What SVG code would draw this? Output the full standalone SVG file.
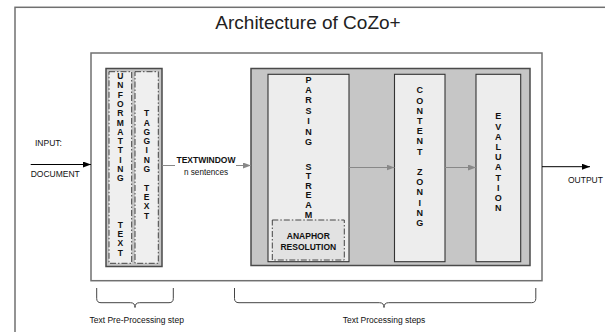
<svg xmlns="http://www.w3.org/2000/svg" width="605" height="332" viewBox="0 0 605 332">
<defs>
<marker id="ahBlack" markerUnits="userSpaceOnUse" markerWidth="10" markerHeight="8" refX="8" refY="3" orient="auto"><path d="M0,0 L8,3 L0,6 Z" fill="#000"/></marker>
<marker id="ahGray" markerUnits="userSpaceOnUse" markerWidth="10" markerHeight="8" refX="8" refY="3" orient="auto"><path d="M0,0 L8,3 L0,6 Z" fill="#888"/></marker>
</defs>
<style>
text{font-family:"Liberation Sans",Arial,sans-serif;fill:#111}
.title{font-size:19px;fill:#222}
.lbl{font-size:8.5px}
.col{font-size:9px;font-weight:bold;text-anchor:middle}
.colS{font-size:8.5px;font-weight:bold;text-anchor:middle}
.frame{fill:#fff;stroke:#707070;stroke-width:1.5}
.grp{fill:#c6c6c6;stroke:#4a4a4a;stroke-width:1.5}
.box{fill:#ededed;stroke:#333;stroke-width:1.1}
.dash{fill:#efefef;stroke:#444;stroke-width:1;stroke-dasharray:6 2 1.5 2}
.brace{fill:none;stroke:#444;stroke-width:1}
.gray{stroke:#888;stroke-width:1;fill:none}
.black{stroke:#000;stroke-width:1;fill:none}
</style>
<rect x="0" y="0" width="605" height="332" fill="#fff"/>
<rect class="frame" x="15" y="7.3" width="640" height="360"/>
<text class="title" x="308" y="29" text-anchor="middle">Architecture of CoZo+</text>
<rect class="frame" x="91" y="53" width="451" height="227.7"/>

<g id="preprocessing">
<rect class="grp" x="106" y="68.5" width="56" height="198"/>
</g>
<g id="unformatting">
<rect class="dash" x="109" y="71.7" width="22.7" height="191.6"/>
<text class="colS"><tspan x="120.4" y="79">U</tspan><tspan x="120.4" dy="9.3">N</tspan><tspan x="120.4" dy="9.3">F</tspan><tspan x="120.4" dy="9.3">O</tspan><tspan x="120.4" dy="9.3">R</tspan><tspan x="120.4" dy="9.3">M</tspan><tspan x="120.4" dy="9.3">A</tspan><tspan x="120.4" dy="9.3">T</tspan><tspan x="120.4" dy="9.3">T</tspan><tspan x="120.4" dy="9.3">I</tspan><tspan x="120.4" dy="9.3">N</tspan><tspan x="120.4" dy="9.3">G</tspan><tspan x="120.4" dy="46.5">T</tspan><tspan x="120.4" dy="9.3">E</tspan><tspan x="120.4" dy="9.3">X</tspan><tspan x="120.4" dy="9.3">T</tspan></text>
</g>
<g id="tagging">
<rect class="dash" x="135" y="71.7" width="23.3" height="191.6"/>
<text class="colS"><tspan x="146.7" y="116.2">T</tspan><tspan x="146.7" dy="9.3">A</tspan><tspan x="146.7" dy="9.3">G</tspan><tspan x="146.7" dy="9.3">G</tspan><tspan x="146.7" dy="9.3">I</tspan><tspan x="146.7" dy="9.3">N</tspan><tspan x="146.7" dy="9.3">G</tspan><tspan x="146.7" dy="18.6">T</tspan><tspan x="146.7" dy="9.3">E</tspan><tspan x="146.7" dy="9.3">X</tspan><tspan x="146.7" dy="9.3">T</tspan></text>
</g>

<g id="processing">
<rect class="grp" x="251" y="68.5" width="279" height="197"/>
</g>
<g id="parsing">
<rect class="box" x="268" y="74.3" width="81" height="187.4"/>
<text class="col"><tspan x="308.5" y="82.6">P</tspan><tspan x="308.5" dy="10.4">A</tspan><tspan x="308.5" dy="10.4">R</tspan><tspan x="308.5" dy="10.4">S</tspan><tspan x="308.5" dy="10.4">I</tspan><tspan x="308.5" dy="10.4">N</tspan><tspan x="308.5" dy="10.4">G</tspan><tspan x="308.5" dy="24.6">S</tspan><tspan x="308.5" dy="9.6">T</tspan><tspan x="308.5" dy="9.6">R</tspan><tspan x="308.5" dy="9.6">E</tspan><tspan x="308.5" dy="9.6">A</tspan><tspan x="308.5" dy="9.6">M</tspan></text>
</g>
<g id="anaphor">
<rect class="dash" x="272.3" y="220" width="72" height="40" style="fill:#e2e2e2"/>
<text class="col" style="font-size:8.5px"><tspan x="308.3" y="239.3">ANAPHOR</tspan><tspan x="308.3" y="249.8">RESOLUTION</tspan></text>
</g>
<g id="content">
<rect class="box" x="394.5" y="74.3" width="50.5" height="187.4"/>
<text class="col"><tspan x="419.8" y="93.4">C</tspan><tspan x="419.8" dy="10.2">O</tspan><tspan x="419.8" dy="10.2">N</tspan><tspan x="419.8" dy="10.2">T</tspan><tspan x="419.8" dy="10.2">E</tspan><tspan x="419.8" dy="10.2">N</tspan><tspan x="419.8" dy="10.2">T</tspan><tspan x="419.8" dy="20.4">Z</tspan><tspan x="419.8" dy="10.2">O</tspan><tspan x="419.8" dy="10.2">N</tspan><tspan x="419.8" dy="10.2">I</tspan><tspan x="419.8" dy="10.2">N</tspan><tspan x="419.8" dy="10.2">G</tspan></text>
</g>
<g id="evaluation">
<rect class="box" x="476" y="74.3" width="44.7" height="187.4"/>
<text class="col"><tspan x="498.3" y="119.4">E</tspan><tspan x="498.3" dy="10.2">V</tspan><tspan x="498.3" dy="10.2">A</tspan><tspan x="498.3" dy="10.2">L</tspan><tspan x="498.3" dy="10.2">U</tspan><tspan x="498.3" dy="10.2">A</tspan><tspan x="498.3" dy="10.2">T</tspan><tspan x="498.3" dy="10.2">I</tspan><tspan x="498.3" dy="10.2">O</tspan><tspan x="498.3" dy="10.2">N</tspan></text>
</g>

<g id="connectors">
<line class="black" x1="30.7" y1="164.5" x2="91" y2="164.5" marker-end="url(#ahBlack)"/>
<line class="gray" x1="162" y1="165.5" x2="175" y2="165.5"/>
<line class="gray" x1="236" y1="165.5" x2="251" y2="165.5" marker-end="url(#ahGray)"/>
<line class="gray" x1="349" y1="167.5" x2="394.5" y2="167.5" marker-end="url(#ahGray)"/>
<line class="gray" x1="445" y1="167.5" x2="476" y2="167.5" marker-end="url(#ahGray)"/>
<line class="black" x1="542" y1="166.7" x2="590" y2="166.7" marker-end="url(#ahBlack)"/>
</g>

<g id="labels">
<text class="lbl" x="35" y="146">INPUT:</text>
<text class="lbl" x="30.7" y="176.5">DOCUMENT</text>
<text class="lbl" x="206" y="163" text-anchor="middle" font-weight="bold">TEXTWINDOW</text>
<text class="lbl" x="206" y="174.5" text-anchor="middle" style="font-size:8.2px">n sentences</text>
<text class="lbl" x="568" y="183">OUTPUT</text>
</g>

<g id="brace-pre">
<path class="brace" d="M96.7,288 V298.5 Q96.7,302.7 101,302.7 H130.5 Q135,302.7 135,307.5 Q135,302.7 139.5,302.7 H169 Q173.3,302.7 173.3,298.5 V288"/>
<text class="lbl" x="136.7" y="322.5" text-anchor="middle">Text Pre-Processing step</text>
</g>
<g id="brace-proc">
<path class="brace" d="M234.5,288 V298.5 Q234.5,302.7 239,302.7 H379.5 Q384,302.7 384,307.5 Q384,302.7 388.5,302.7 H531.5 Q535.8,302.7 535.8,298.5 V288"/>
<text class="lbl" x="384" y="322.5" text-anchor="middle">Text Processing steps</text>
</g>
</svg>
